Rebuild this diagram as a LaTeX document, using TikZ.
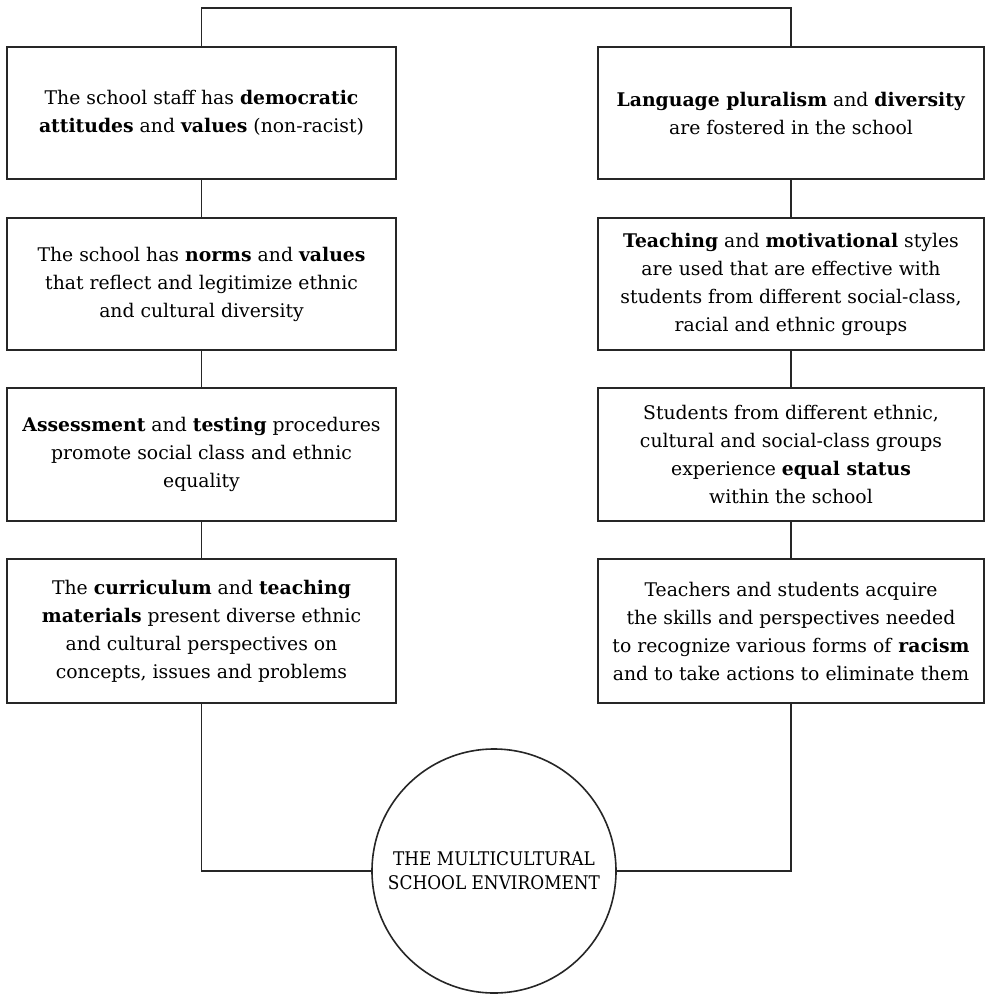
\documentclass[tikz,border=0pt]{standalone}
\usepackage{fontspec}
\setmainfont{DejaVu Serif}
\newfontfamily\condfont{DejaVu Serif Condensed}
\begin{document}
\begin{tikzpicture}[x=0.5pt,y=-0.5pt,
  boxL/.style={draw=black!85,line width=1pt,rectangle,minimum width=194.5pt,inner sep=0pt,align=center,font=\fontsize{9.4}{14}\selectfont},
  boxR/.style={boxL,minimum width=193pt},
  conn/.style={draw=black!85,line width=0.8pt},
  hub/.style={draw=black!85,line width=0.8pt,circle,minimum size=122pt,inner sep=0pt,align=center,font=\condfont\fontsize{9.4}{12}\selectfont}]
\useasboundingbox (0,0) rectangle (986,994);
\node[boxL,minimum height=66pt] (L1) at (201.5,113) {The school staff has \textbf{democratic}\\ \textbf{attitudes} and \textbf{values} (non-racist)};
\node[boxL,minimum height=66pt] (L2) at (201.5,284) {The school has \textbf{norms} and \textbf{values}\\ that reflect and legitimize ethnic\\ and cultural diversity};
\node[boxL,minimum height=66.5pt] (L3) at (201.5,454.5) {\textbf{Assessment} and \textbf{testing} procedures\\ promote social class and ethnic\\ equality};
\node[boxL,minimum height=72pt] (L4) at (201.5,631) {The \textbf{curriculum} and \textbf{teaching}\\ \textbf{materials} present diverse ethnic\\ and cultural perspectives on\\ concepts, issues and problems};
\node[boxR,minimum height=66pt] (R1) at (791,113) {\textbf{Language pluralism} and \textbf{diversity}\\ are fostered in the school};
\node[boxR,minimum height=66pt] (R2) at (791,284) {\textbf{Teaching} and \textbf{motivational} styles\\ are used that are effective with\\ students from different social-class,\\ racial and ethnic groups};
\node[boxR,minimum height=66.5pt] (R3) at (791,454.5) {Students from different ethnic,\\ cultural and social-class groups\\ experience \textbf{equal status}\\ within the school};
\node[boxR,minimum height=72pt] (R4) at (791,631) {Teachers and students acquire\\ the skills and perspectives needed\\ to recognize various forms of \textbf{racism}\\ and to take actions to eliminate them};
\node[hub] (C) at (494,871) {THE MULTICULTURAL\\ SCHOOL ENVIROMENT};
\coordinate (top) at (494,8);
\draw[conn] (L1.north) -- (L1.north |- top) -- (R1.north |- top) -- (R1.north);
\draw[conn] (L1.south) -- (L2.north);
\draw[conn] (L2.south) -- (L3.north);
\draw[conn] (L3.south) -- (L4.north);
\draw[conn] (R1.south) -- (R2.north);
\draw[conn] (R2.south) -- (R3.north);
\draw[conn] (R3.south) -- (R4.north);
\draw[conn] (L4.south) |- (C.west);
\draw[conn] (R4.south) |- (C.east);
\end{tikzpicture}
\end{document}
